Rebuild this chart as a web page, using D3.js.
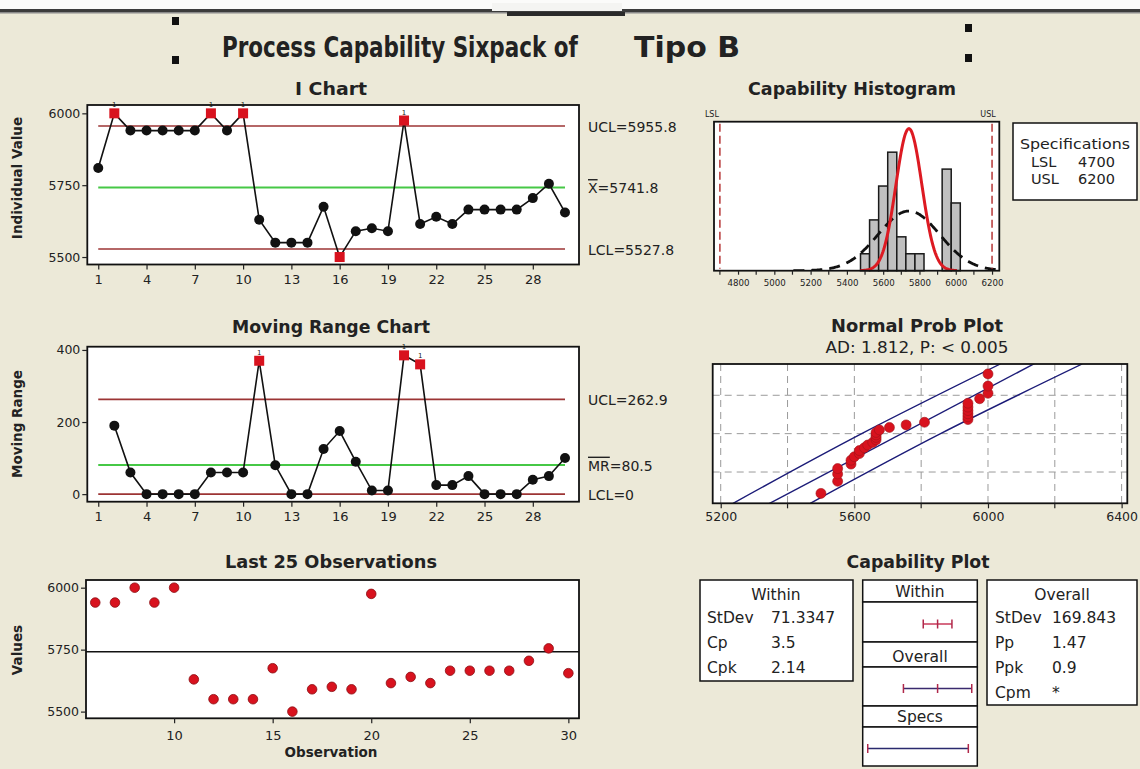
<!DOCTYPE html>
<html><head><meta charset="utf-8">
<script src="https://cdn.jsdelivr.net/npm/d3@7"></script>
<style>
html,body{margin:0;padding:0;background:#ece9d8;}
svg{display:block;}
text{font-family:"DejaVu Sans","Noto Sans",sans-serif;fill:#222;}
</style></head><body>
<svg id="chart" width="1140" height="769"></svg>
<script>
// ---------- data ----------
const observations = [5810, 6000, 5940, 5940, 5940, 5940, 5940, 6000, 5940, 6000,
                      5630, 5550, 5550, 5550, 5675, 5500, 5590, 5600, 5590, 5975,
                      5615, 5640, 5615, 5665, 5665, 5665, 5665, 5705, 5755, 5655];
const iLimits = [5955.8, 5741.8, 5527.8];          // UCL, mean, LCL
const mrLimits = [262.9, 80.5, 0];                 // UCL, mean MR, LCL
const iTicks = [5500, 5750, 6000];
const mrTicks = [0, 200, 400];
const obsTicks = [1, 4, 7, 10, 13, 16, 19, 22, 25, 28];
const lastTicks = [10, 15, 20, 25, 30];
const histTicks = [4800, 5000, 5200, 5400, 5600, 5800, 6000, 6200];
const histMinor = [4700, 4900, 5100, 5300, 5500, 5700, 5900, 6100];
const probTicks = [5200, 5600, 6000, 6400];
const probMinor = [5400, 5800, 6200];
const probGrid = [0.1, 0.5, 0.9];
const specNames = ["LSL", "USL"];
const specValues = [4700, 6200];
const processMean = 5741.8;
const sigmaWithin = 71.3347;
const sigmaOverall = 169.843;
const binWidth = 50;
const withinNames = ["StDev", "Cp", "Cpk"];
const withinValues = ["71.3347", "3.5", "2.14"];
const overallNames = ["StDev", "Pp", "Ppk", "Cpm"];
const overallValues = ["169.843", "1.47", "0.9", "*"];
// confidence band of the probability plot, read at cumulative probabilities
const bandProb = [0.01, 0.5, 0.99];
const bandLower = [5237, 5622, 6037];
const bandUpper = [5468, 5858, 6282];

// ---------- helpers ----------
const svg = d3.select("#chart");
const BG = "#ece9d8";
const LIMIT_RED = "#9c3434";
const CENTER_GREEN = "#46c846";
const POINT_RED = "#d8121e";
const COND = "'DejaVu Sans Condensed','DejaVu Sans',sans-serif";

svg.append("rect").attr("width", 1140).attr("height", 769).attr("fill", BG);

function normInv(p) {
  const a = [-3.969683028665376e+01, 2.209460984245205e+02, -2.759285104469687e+02, 1.383577518672690e+02, -3.066479806614716e+01, 2.506628277459239e+00];
  const b = [-5.447609879822406e+01, 1.615858368580409e+02, -1.556989798598866e+02, 6.680131188771972e+01, -1.328068155288572e+01];
  const c = [-7.784894002430293e-03, -3.223964580411365e-01, -2.400758277161838e+00, -2.549732539343734e+00, 4.374664141464968e+00, 2.938163982698783e+00];
  const d = [7.784695709041462e-03, 3.224671290700398e-01, 2.445134137142996e+00, 3.754408661907416e+00];
  const pl = 0.02425, ph = 1 - pl;
  let q, r;
  if (p < pl) { q = Math.sqrt(-2 * Math.log(p)); return (((((c[0]*q+c[1])*q+c[2])*q+c[3])*q+c[4])*q+c[5])/((((d[0]*q+d[1])*q+d[2])*q+d[3])*q+1); }
  if (p <= ph) { q = p - 0.5; r = q*q; return (((((a[0]*r+a[1])*r+a[2])*r+a[3])*r+a[4])*r+a[5])*q/(((((b[0]*r+b[1])*r+b[2])*r+b[3])*r+b[4])*r+1); }
  q = Math.sqrt(-2 * Math.log(1 - p));
  return -(((((c[0]*q+c[1])*q+c[2])*q+c[3])*q+c[4])*q+c[5])/((((d[0]*q+d[1])*q+d[2])*q+d[3])*q+1);
}

function plotFrame(g, x, y, id) {
  const [x0, x1] = x.range(), [y1, y0] = y.range();
  g.append("rect").attr("x", x0).attr("y", y0).attr("width", x1 - x0).attr("height", y1 - y0)
    .attr("fill", "#fff");
  g.append("clipPath").attr("id", id).append("rect")
    .attr("x", x0).attr("y", y0).attr("width", x1 - x0).attr("height", y1 - y0);
}
function frameBorder(g, x, y) {
  const [x0, x1] = x.range(), [y1, y0] = y.range();
  g.append("rect").attr("x", x0).attr("y", y0).attr("width", x1 - x0).attr("height", y1 - y0)
    .attr("fill", "none").attr("stroke", "#111").attr("stroke-width", 1.8);
}
function styleAxis(sel, size, family) {
  sel.select(".domain").remove();
  sel.selectAll(".tick line").attr("stroke", "#222").attr("stroke-width", 1.2);
  sel.selectAll(".tick text").attr("font-size", size || 13).attr("fill", "#333")
    .attr("font-family", family || "'DejaVu Sans',sans-serif");
}
function leftAxis(g, x, y, ticks) {
  const a = g.append("g").attr("transform", `translate(${x.range()[0]},0)`)
    .call(d3.axisLeft(y).tickValues(ticks).tickSize(5).tickPadding(2).tickFormat(d3.format("d")));
  styleAxis(a, 12.5);
}
function bottomAxis(g, x, y, ticks, size, pad) {
  const a = g.append("g").attr("transform", `translate(0,${y.range()[0]})`)
    .call(d3.axisBottom(x).tickValues(ticks).tickSize(5).tickPadding(pad).tickFormat(d3.format("d")));
  styleAxis(a, size);
  return a;
}
function panelTitle(x, y, txt, len) {
  svg.append("text").attr("x", x).attr("y", y).attr("text-anchor", "middle")
    .attr("font-weight", "bold").attr("font-size", 17).attr("fill", "#1a1a1a")
    .attr("textLength", len).attr("lengthAdjust", "spacingAndGlyphs").text(txt);
}
function yTitle(x, y, txt) {
  svg.append("text").attr("transform", `translate(${x},${y}) rotate(-90)`).attr("text-anchor", "middle")
    .attr("font-weight", "bold").attr("font-size", 13.5).attr("fill", "#1a1a1a").text(txt);
}
// text squeezed horizontally to a given width
function squeezedText(x, y, width, txt) {
  const t = svg.append("text").attr("font-family", "'Noto Sans',sans-serif")
    .attr("font-weight", "bold").attr("font-size", 28).attr("fill", "#1a1a1a").text(txt);
  const natural = t.node().getComputedTextLength();
  t.attr("transform", `translate(${x},${y}) scale(${width / natural},1)`);
}

// ---------- header ----------
svg.append("rect").attr("x", 0).attr("y", 0).attr("width", 1140).attr("height", 9).attr("fill", "#fbfbfa");
svg.append("rect").attr("x", 0).attr("y", 9).attr("width", 1140).attr("height", 4).attr("fill", "#3c3c3c");
svg.append("rect").attr("x", 0).attr("y", 12).attr("width", 1140).attr("height", 1.5).attr("fill", "#8a8a8a");
svg.append("rect").attr("x", 492).attr("y", 3).attr("width", 130).attr("height", 8).attr("fill", "#f4f4f2");
svg.append("rect").attr("x", 507).attr("y", 12).attr("width", 118).attr("height", 4).attr("fill", "#2a2a2a");

[[172, 17], [172, 56], [965, 24], [965, 54]].forEach(([x, y]) =>
  svg.append("rect").attr("x", x).attr("y", y).attr("width", 7).attr("height", 8).attr("fill", "#111"));

squeezedText(222, 57, 356, "Process Capability Sixpack of");
squeezedText(634, 57, 106, "Tipo B");

// ---------- control-chart drawing ----------
function controlChart(opt) {
  const g = svg.append("g");
  const { x, y, pts, limits, labels, ticks, clip } = opt;
  plotFrame(g, x, y, clip);
  const x0 = x(1), x1 = x(30);
  // control limits
  [0, 2].forEach(k => g.append("line").attr("x1", x0).attr("x2", x1)
    .attr("y1", y(limits[k])).attr("y2", y(limits[k]))
    .attr("stroke", LIMIT_RED).attr("stroke-width", 1.6));
  g.append("line").attr("x1", x0).attr("x2", x1).attr("y1", y(limits[1])).attr("y2", y(limits[1]))
    .attr("stroke", CENTER_GREEN).attr("stroke-width", 2);
  // series
  g.append("path").datum(pts)
    .attr("d", d3.line().x(d => x(d.i)).y(d => y(d.v)))
    .attr("fill", "none").attr("stroke", "#111").attr("stroke-width", 1.6);
  pts.forEach(d => {
    const out = d.v > limits[0] || d.v < limits[2];
    if (out) {
      g.append("rect").attr("x", x(d.i) - 5).attr("y", y(d.v) - 5).attr("width", 10).attr("height", 10)
        .attr("fill", POINT_RED);
      if (d.v > limits[0])
        g.append("text").attr("x", x(d.i)).attr("y", y(d.v) - 6).attr("text-anchor", "middle")
          .attr("font-size", 7).attr("fill", "#888").text("1");
    } else {
      g.append("circle").attr("cx", x(d.i)).attr("cy", y(d.v)).attr("r", 5).attr("fill", "#111");
    }
  });
  frameBorder(g, x, y);
  leftAxis(g, x, y, ticks);
  bottomAxis(g, x, y, obsTicks, 13, 5);
  // limit labels
  labels.forEach((lab, k) => {
    const t = g.append("text").attr("x", 588).attr("y", y(limits[k]) + 5.5)
      .attr("font-size", 14).attr("fill", "#333").attr("font-family", COND);
    lab(t);
  });
}

// I chart
const iX = d3.scaleLinear([0.32, 30.87], [87.3, 579]);
const iY = d3.scaleLinear([5474, 6029], [264.5, 105]);
panelTitle(331, 95, "I Chart", 72);
yTitle(22, 178, "Individual Value");
controlChart({
  x: iX, y: iY, clip: "clipI", ticks: iTicks, limits: iLimits,
  pts: observations.map((v, k) => ({ i: k + 1, v })),
  labels: [
    t => t.text(`UCL=${iLimits[0]}`),
    t => { t.append("tspan").attr("text-decoration", "overline").text("X"); t.append("tspan").text(`=${iLimits[1]}`); },
    t => t.text(`LCL=${iLimits[2]}`)
  ]
});

// Moving range chart
const movingRanges = observations.slice(1).map((v, k) => ({ i: k + 2, v: Math.abs(v - observations[k]) }));
const mX = d3.scaleLinear([0.32, 30.87], [87.3, 579]);
const mY = d3.scaleLinear([-21, 409], [501.7, 346.7]);
panelTitle(331, 333, "Moving Range Chart", 198);
yTitle(22, 424, "Moving Range");
controlChart({
  x: mX, y: mY, clip: "clipM", ticks: mrTicks, limits: mrLimits,
  pts: movingRanges,
  labels: [
    t => t.text(`UCL=${mrLimits[0]}`),
    t => { t.append("tspan").attr("text-decoration", "overline").text("MR"); t.append("tspan").text(`=${mrLimits[1]}`); },
    t => t.text(`LCL=${mrLimits[2]}`)
  ]
});

// Last 25 observations
{
  const g = svg.append("g");
  const x = d3.scaleLinear([5.53, 30.54], [86, 579]);
  const y = d3.scaleLinear([5473, 6031], [718.3, 580]);
  const last25 = observations.slice(-25).map((v, k) => ({ i: observations.length - 25 + k + 1, v }));
  panelTitle(331, 568, "Last 25 Observations", 212);
  yTitle(22, 650, "Values");
  plotFrame(g, x, y, "clipL");
  g.append("line").attr("x1", x.range()[0]).attr("x2", x.range()[1])
    .attr("y1", y(processMean)).attr("y2", y(processMean)).attr("stroke", "#111").attr("stroke-width", 1.5);
  g.selectAll("circle.pt").data(last25).join("circle").attr("class", "pt")
    .attr("cx", d => x(d.i)).attr("cy", d => y(d.v)).attr("r", 4.8)
    .attr("fill", POINT_RED).attr("stroke", "#8a0d12").attr("stroke-width", 0.8);
  frameBorder(g, x, y);
  leftAxis(g, x, y, iTicks);
  bottomAxis(g, x, y, lastTicks, 13, 7);
  svg.append("text").attr("x", 331).attr("y", 757).attr("text-anchor", "middle")
    .attr("font-weight", "bold").attr("font-size", 13.5).attr("fill", "#1a1a1a").text("Observation");
}

// ---------- capability histogram ----------
{
  const g = svg.append("g");
  const x = d3.scaleLinear([4667.5, 6240], [714, 999.3]);
  const y = d3.scaleLinear([0, 8.8], [270.7, 121.7]);
  panelTitle(852, 95, "Capability Histogram", 208);
  plotFrame(g, x, y, "clipH");
  const bins = d3.bin().thresholds(d3.range(5475, 6030, binWidth)).domain([5475, 6025])(observations);
  g.selectAll("rect.bar").data(bins.filter(b => b.length)).join("rect").attr("class", "bar")
    .attr("x", b => x(b.x0)).attr("width", b => x(b.x1) - x(b.x0))
    .attr("y", b => y(b.length)).attr("height", b => y(0) - y(b.length))
    .attr("fill", "#c0c0c0").attr("stroke", "#1a1a1a").attr("stroke-width", 1.5);
  const n = observations.length;
  const density = s => v => n * binWidth * Math.exp(-((v - processMean) ** 2) / (2 * s * s)) / (s * Math.sqrt(2 * Math.PI));
  const curve = (s, span) => d3.range(processMean - span * s, processMean + span * s, 4)
    .map(v => [v, density(s)(v)]);
  const line = d3.line().x(d => x(d[0])).y(d => y(d[1]));
  const cg = g.append("g").attr("clip-path", "url(#clipH)");
  cg.append("path").attr("d", line(curve(sigmaOverall, 3.75))).attr("fill", "none")
    .attr("stroke", "#111").attr("stroke-width", 2.8).attr("stroke-dasharray", "11,7");
  cg.append("path").attr("d", line(curve(sigmaWithin, 3.75))).attr("fill", "none")
    .attr("stroke", "#dd1a22").attr("stroke-width", 3);
  specValues.forEach((s, k) => {
    g.append("line").attr("x1", x(s)).attr("x2", x(s)).attr("y1", y.range()[1] + 2).attr("y2", y.range()[0] - 2)
      .attr("stroke", "#b02828").attr("stroke-width", 1.4).attr("stroke-dasharray", "8,4");
    g.append("text").attr("x", x(s) + (k ? -4 : -8)).attr("y", 117).attr("text-anchor", "middle")
      .attr("font-size", 8).attr("font-family", COND).attr("fill", "#c05050").text(specNames[k]);
  });
  frameBorder(g, x, y);
  const ax = g.append("g").attr("transform", `translate(0,${y.range()[0]})`)
    .call(d3.axisBottom(x).tickValues(histTicks).tickSize(4).tickPadding(5).tickFormat(d3.format("d")));
  styleAxis(ax, 9.5, COND);
  ax.selectAll(".tick text").attr("textLength", 22).attr("lengthAdjust", "spacingAndGlyphs");
  g.selectAll("line.minor").data(histMinor).join("line").attr("class", "minor")
    .attr("x1", d => x(d)).attr("x2", d => x(d)).attr("y1", y.range()[0]).attr("y2", y.range()[0] + 4)
    .attr("stroke", "#222").attr("stroke-width", 1.2);

  // specification box
  svg.append("rect").attr("x", 1013).attr("y", 123).attr("width", 124).attr("height", 77)
    .attr("fill", "#fff").attr("stroke", "#111").attr("stroke-width", 1.5);
  svg.append("text").attr("x", 1075).attr("y", 149).attr("text-anchor", "middle").attr("font-size", 14.5)
    .attr("fill", "#222").attr("textLength", 110).attr("lengthAdjust", "spacingAndGlyphs").text("Specifications");
  specNames.forEach((nm, k) => {
    svg.append("text").attr("x", 1031).attr("y", 166.5 + k * 17.5).attr("font-size", 14.5).text(nm);
    svg.append("text").attr("x", 1078).attr("y", 166.5 + k * 17.5).attr("font-size", 14.5).text(specValues[k]);
  });
}

// ---------- normal probability plot ----------
{
  const g = svg.append("g");
  const x = d3.scaleLinear([5176, 6417], [712.7, 1127.3]);
  const y = d3.scaleLinear([-2.326, 2.326], [503.3, 364]);
  panelTitle(917, 332, "Normal Prob Plot", 172);
  svg.append("text").attr("x", 917).attr("y", 353).attr("text-anchor", "middle").attr("font-size", 15.5)
    .attr("fill", "#222").attr("textLength", 183).attr("lengthAdjust", "spacingAndGlyphs")
    .text("AD: 1.812, P: < 0.005");
  plotFrame(g, x, y, "clipP");
  const grid = g.append("g").attr("stroke", "#9a9a9a").attr("stroke-width", 1).attr("stroke-dasharray", "7,5");
  probTicks.concat(probMinor).forEach(v => grid.append("line").attr("x1", x(v)).attr("x2", x(v))
    .attr("y1", y.range()[1]).attr("y2", y.range()[0]));
  probGrid.forEach(p => grid.append("line").attr("x1", x.range()[0]).attr("x2", x.range()[1])
    .attr("y1", y(normInv(p))).attr("y2", y(normInv(p))));
  const cg = g.append("g").attr("clip-path", "url(#clipP)");
  const fitLine = d3.line().x(d => x(d[0])).y(d => y(d[1]));
  cg.append("path").attr("d", fitLine([[processMean - 2.8 * sigmaOverall, -2.8], [processMean + 2.8 * sigmaOverall, 2.8]]))
    .attr("fill", "none").attr("stroke", "#1c1c78").attr("stroke-width", 1.4);
  [bandLower, bandUpper].forEach(band => {
    cg.append("path").attr("d", d3.line().curve(d3.curveNatural)
        .x(d => x(d)).y((d, k) => y(normInv(bandProb[k])))(band))
      .attr("fill", "none").attr("stroke", "#1c1c78").attr("stroke-width", 1.4);
  });
  const sorted = observations.slice().sort(d3.ascending);
  const n = sorted.length;
  sorted.forEach((v, k) => {
    const z = normInv((k + 1 - 0.3) / (n + 0.4));
    cg.append("circle").attr("cx", x(v)).attr("cy", y(z)).attr("r", 5)
      .attr("fill", POINT_RED).attr("stroke", "#a0141a").attr("stroke-width", 0.6);
  });
  frameBorder(g, x, y);
  bottomAxis(g, x, y, probTicks, 12.5, 4);
  g.selectAll("line.minor").data(probMinor).join("line").attr("class", "minor")
    .attr("x1", d => x(d)).attr("x2", d => x(d)).attr("y1", y.range()[0]).attr("y2", y.range()[0] + 5)
    .attr("stroke", "#222").attr("stroke-width", 1.2);
}

// ---------- capability plot ----------
{
  panelTitle(918, 568, "Capability Plot", 143);
  const box = (x, y, w, h) => svg.append("rect").attr("x", x).attr("y", y).attr("width", w).attr("height", h)
    .attr("fill", "#fff").attr("stroke", "#111").attr("stroke-width", 1.5);
  const txt = (x, y, s, anchor) => svg.append("text").attr("x", x).attr("y", y).attr("font-size", 15.5)
    .attr("text-anchor", anchor || "start").attr("fill", "#222").text(s);

  // within statistics
  box(700, 580, 153, 101);
  txt(776, 600, "Within", "middle");
  withinNames.forEach((nm, k) => { txt(707, 623 + k * 25, nm); txt(771, 623 + k * 25, withinValues[k]); });

  // overall statistics
  box(987, 580, 150, 125);
  txt(1062, 600, "Overall", "middle");
  overallNames.forEach((nm, k) => { txt(995, 623 + k * 25, nm); txt(1052, 623 + k * 25, overallValues[k]); });

  // interval column
  const cx = d3.scaleLinear([4625, 6334], [862.7, 977.3]);
  const rows = [
    { head: "Within", y0: 580, y1: 602, y2: 642, lo: iLimits[2], hi: iLimits[0], mid: processMean, line: "#c83a5a" },
    { head: "Overall", y0: 642, y1: 667, y2: 706, lo: processMean - 3 * sigmaOverall, hi: processMean + 3 * sigmaOverall, mid: processMean, line: "#3a2a6e" },
    { head: "Specs", y0: 706, y1: 727, y2: 766, lo: specValues[0], hi: specValues[1], mid: null, line: "#2a2a6e" }
  ];
  rows.forEach(r => {
    box(862.7, r.y0, 114.6, r.y1 - r.y0);
    box(862.7, r.y1, 114.6, r.y2 - r.y1);
    txt(920, r.y1 - 5, r.head, "middle");
    const ly = (r.y1 + r.y2) / 2 + 2;
    svg.append("line").attr("x1", cx(r.lo)).attr("x2", cx(r.hi)).attr("y1", ly).attr("y2", ly)
      .attr("stroke", r.line).attr("stroke-width", 1.5);
    [r.lo, r.mid, r.hi].filter(v => v !== null).forEach(v =>
      svg.append("line").attr("x1", cx(v)).attr("x2", cx(v)).attr("y1", ly - 4.5).attr("y2", ly + 4.5)
        .attr("stroke", "#b0284a").attr("stroke-width", 1.5));
  });
}
</script>
</body></html>
